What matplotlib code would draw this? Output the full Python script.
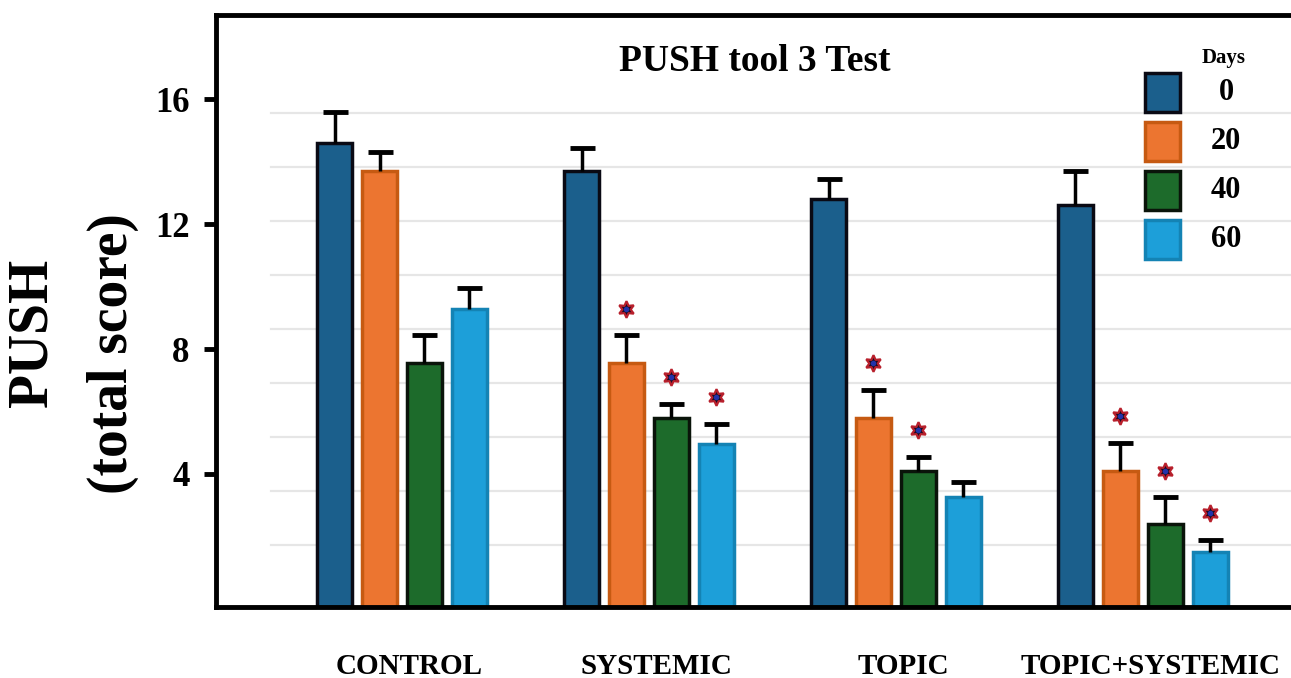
import numpy as np
import matplotlib
matplotlib.use("Agg")
import matplotlib.pyplot as plt
from matplotlib.patches import Rectangle

plt.rcParams['font.family'] = ['Liberation Serif', 'DejaVu Serif']
plt.rcParams['font.weight'] = 'bold'

groups = ["CONTROL", "SYSTEMIC", "TOPIC", "TOPIC+SYSTEMIC"]
days = ["0", "20", "40", "60"]

# mean PUSH score per group, one list per day
day0 = [14.6, 13.7, 12.8, 12.6]
day20 = [13.7, 7.55, 5.8, 4.1]
day40 = [7.55, 5.8, 4.1, 2.4]
day60 = [9.3, 4.95, 3.25, 1.5]

# upper error (SE) per group
err0 = [1.0, 0.75, 0.65, 1.1]
err20 = [0.6, 0.9, 0.9, 0.9]
err40 = [0.9, 0.45, 0.45, 0.85]
err60 = [0.65, 0.65, 0.5, 0.4]

# significance vs control
sig0 = [False, False, False, False]
sig20 = [False, True, True, True]
sig40 = [False, True, True, True]
sig60 = [False, True, False, True]

means = [day0, day20, day40, day60]
errs = [err0, err20, err40, err60]
sigs = [sig0, sig20, sig40, sig60]

colors = ['#1b5f8c', '#ec7530', '#1d6b2b', '#1d9fd9']
edges = ['#0a0a14', '#c65a12', '#0a140a', '#1483b4']

fig = plt.figure(figsize=(12.91, 6.78), dpi=100)
ax = fig.add_axes([216 / 1291, 71 / 678, 1104 / 1291, 592 / 678])

ylo, yhi = -0.26, 18.7
x = np.arange(len(groups))
step = 0.182
width = 0.142

# faint horizontal guide lines
for g in np.arange(1, 10) * 1.73:
    ax.axhline(g, xmin=0.05, xmax=1, color='#e6e6e6', lw=1.6, zorder=0)

for i in range(4):
    xs = x + (i - 1.5) * step
    vals = np.array(means[i])
    ax.bar(xs, vals - ylo, width, bottom=ylo, color=colors[i],
           edgecolor=edges[i], linewidth=2.5, zorder=2)
    eb = ax.errorbar(xs, vals, yerr=[np.zeros(4), errs[i]], fmt='none',
                     ecolor='black', elinewidth=2.5, capsize=9, capthick=3.5,
                     zorder=3)
    # only the upper cap is wanted
    eb[1][0].set_visible(False)
    for xi, v, e, s in zip(xs, vals, errs[i], sigs[i]):
        if s:
            ax.plot(xi, v + e + 0.85, marker=(6, 1, 0), ms=12, mfc='#1a0c24',
                    mec='#b8202c', mew=1.6, zorder=4)
            ax.plot(xi, v + e + 0.85, marker='o', ms=4, mfc='#2233aa',
                    mec='none', zorder=5)

ax.set_xlim(-0.753, 3.717)
ax.set_ylim(ylo, yhi)
ax.set_yticks([4, 8, 12, 16])
ax.set_xticks(x + 0.03)
ax.set_xticklabels(groups)

ax.tick_params(axis='y', direction='out', length=9, width=3.5, labelsize=25, pad=10)
ax.tick_params(axis='x', length=0, labelsize=21, pad=33)

for side in ['left', 'bottom', 'top']:
    ax.spines[side].set_linewidth(3.5)
ax.spines['right'].set_visible(False)

ax.text(0.488, 0.921, "PUSH tool 3 Test", transform=ax.transAxes,
        ha='center', va='center', fontsize=27)

# legend
ax.text(0.913, 0.928, "Days", transform=ax.transAxes, ha='center',
        va='center', fontsize=15)
for i, d in enumerate(days):
    top = 0.902 - i * 0.083
    ax.add_patch(Rectangle((0.8415, top - 0.066), 0.0317, 0.066,
                           transform=ax.transAxes, facecolor=colors[i],
                           edgecolor=edges[i], linewidth=2.5, zorder=5))
    ax.text(0.915, top - 0.033, d, transform=ax.transAxes, ha='center',
            va='center', fontsize=22)

fig.text(33 / 1291, 1 - 333 / 678, "PUSH", rotation=90, ha='center',
         va='center', fontsize=40)
fig.text(113 / 1291, 1 - 354 / 678, "(total score)", rotation=90, ha='center',
         va='center', fontsize=40)

fig.savefig("out.png", dpi=100)
